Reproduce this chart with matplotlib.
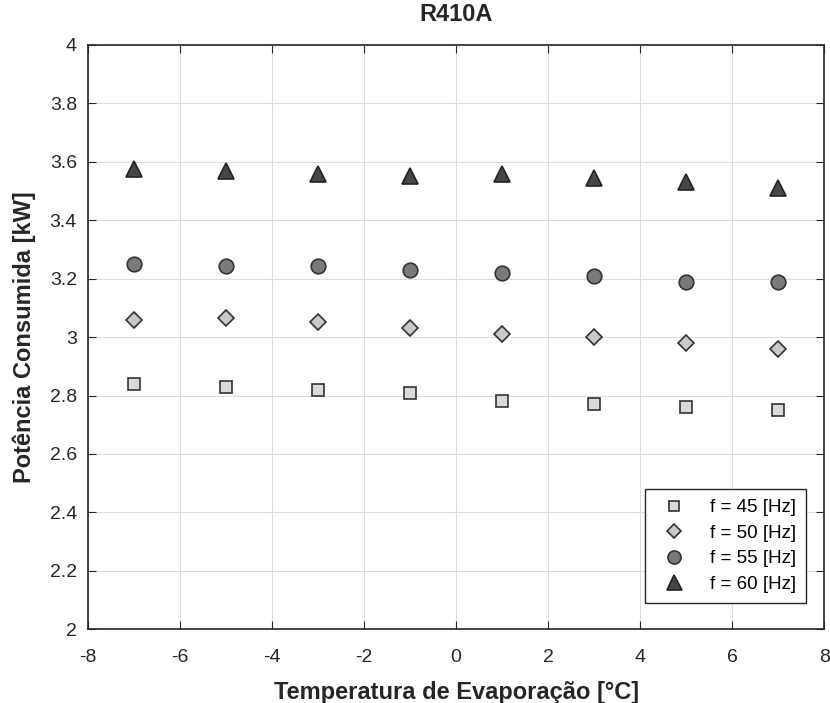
import numpy as np
import matplotlib
matplotlib.use("Agg")
import matplotlib.pyplot as plt

plt.rcParams['font.family'] = ['Liberation Sans', 'DejaVu Sans']
plt.rcParams['axes.unicode_minus'] = False

# Temperatura de evaporação [°C]
temp = [-7, -5, -3, -1, 1, 3, 5, 7]

# Potência consumida [kW] por frequência
pot45 = [2.84, 2.83, 2.82, 2.81, 2.78, 2.77, 2.76, 2.75]
pot50 = [3.06, 3.065, 3.05, 3.03, 3.01, 3.00, 2.98, 2.96]
pot55 = [3.25, 3.243, 3.243, 3.23, 3.22, 3.21, 3.19, 3.19]
pot60 = [3.575, 3.568, 3.56, 3.552, 3.56, 3.545, 3.53, 3.51]

labels = ['f = 45 [Hz]', 'f = 50 [Hz]', 'f = 55 [Hz]', 'f = 60 [Hz]']
yticklabels = ['2', '2.2', '2.4', '2.6', '2.8', '3', '3.2', '3.4', '3.6', '3.8', '4']

fig = plt.figure(figsize=(8.3, 7.03), dpi=100)
ax = fig.add_axes([0.106, 0.105, 0.887, 0.831])

ax.plot(temp, pot45, 's', ms=8, mfc='#d9d9d9', mec='#333333', mew=1.2, label=labels[0], zorder=3)
ax.plot(temp, pot50, 'D', ms=8, mfc='#c8c8c8', mec='#333333', mew=1.2, label=labels[1], zorder=3)
ax.plot(temp, pot55, 'o', ms=10.5, mfc='#7a7a7a', mec='#333333', mew=1.2, label=labels[2], zorder=3)
ax.plot(temp, pot60, '^', ms=12, mfc='#474747', mec='#222222', mew=1.2, label=labels[3], zorder=3)

ax.set_xlim(-8, 8)
ax.set_ylim(2, 4)
ax.set_xticks(np.arange(-8, 9, 2))
ax.set_yticks(np.arange(2, 4.01, 0.2))
ax.set_yticklabels(yticklabels)
ax.grid(True, color='#dcdcdc', linewidth=0.8)
ax.set_axisbelow(True)
ax.tick_params(direction='in', top=True, right=True, length=6, labelsize=14, colors='#262626')
ax.tick_params(axis='x', pad=14)
ax.tick_params(axis='y', pad=8)
for s in ax.spines.values():
    s.set_color('#262626')
    s.set_linewidth(1.2)

ax.set_title('R410A', fontsize=17, fontweight='bold', color='#262626', pad=17)
ax.set_xlabel('Temperatura de Evaporação [°C]', fontsize=17, fontweight='bold', color='#262626', labelpad=11)
ax.set_ylabel('Potência Consumida [kW]', fontsize=17, fontweight='bold', color='#262626', labelpad=10)

leg = ax.legend(loc='lower right', fontsize=13.5, fancybox=False, framealpha=1,
                edgecolor='#262626', borderpad=0.55, labelspacing=0.45, handletextpad=0.9,
                markerscale=0.9, borderaxespad=0, bbox_to_anchor=(0.9755, 0.0445))
leg.get_frame().set_linewidth(1.0)

fig.savefig('out.png', dpi=100)
